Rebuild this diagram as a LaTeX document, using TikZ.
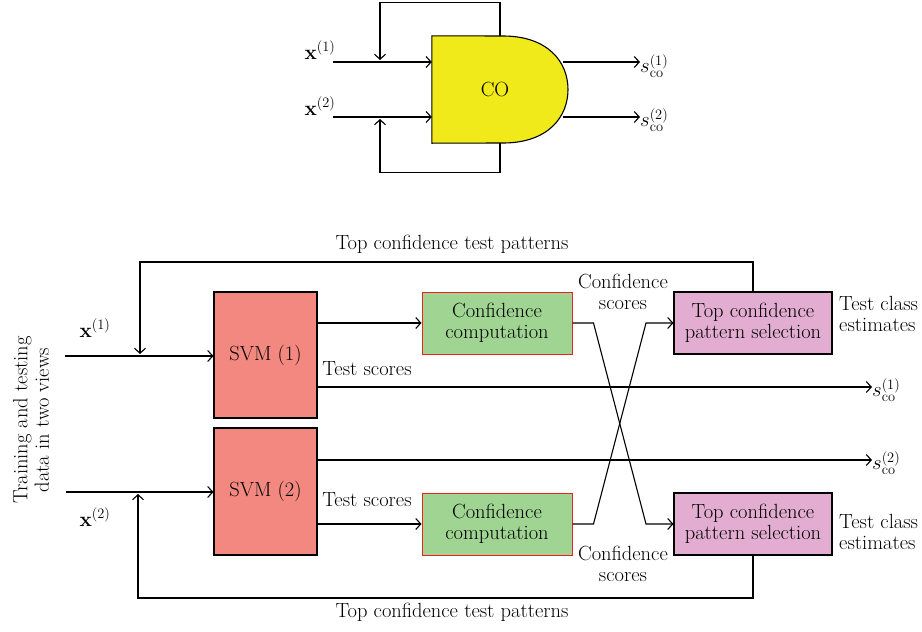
\documentclass[tikz,border=0pt]{standalone}
\usetikzlibrary{arrows.meta}
\definecolor{coyellow}{HTML}{F0EA1A}
\definecolor{svmred}{HTML}{F28880}
\definecolor{ccgreen}{HTML}{A0D492}
\definecolor{pspink}{HTML}{E2ADD0}
\definecolor{ccborder}{HTML}{F02020}
\begin{document}
\begin{tikzpicture}[x=1pt,y=-1pt,
  every node/.style={font=\fontsize{20.5}{21.5}\selectfont, inner sep=0pt},
  arr/.style={line width=1.1pt, -{Straight Barb[length=5pt,width=11pt,line width=1.1pt]}},
  svmbox/.style={draw, line width=1.1pt, fill=svmred, minimum width=103pt, minimum height=126pt},
  ccbox/.style={draw=ccborder, line width=1pt, fill=ccgreen, minimum width=150pt, minimum height=62pt, align=center},
  psbox/.style={draw, line width=1.1pt, fill=pspink, minimum width=158pt, minimum height=62pt, align=center},
  lbl/.style={align=center}
]
\useasboundingbox (0,0) rectangle (922,632);

% ---------- top: CO block ----------
\node[minimum width=136pt, minimum height=107pt] (co) at (500,89.5) {};
\fill[coyellow, draw=black, line width=1.1pt] (co.north west) -- (503,36) .. controls (548,36) and (568,62) .. (568,89.5) .. controls (568,117) and (548,143) .. (503,143) -- (co.south west) -- cycle;
\node at (co.center) [xshift=-5pt] {CO};

\node (x1top) at (320,50) {$\mathbf{x}^{(1)}$};
\node (x2top) at (320,106) {$\mathbf{x}^{(2)}$};
\coordinate (x1in) at (333,62);
\coordinate (x2in) at (333,117);
\draw[arr] (x1in) -- (x1in -| co.west);
\draw[arr] (x2in) -- (x2in -| co.west);
\draw[arr] (co.north) -- ++(0,-33) -| (380,60);
\draw[arr] (co.south) -- ++(0,29) -| (380,119);

\node[anchor=west] (s1top) at (640,66) {$s_{\mathrm{co}}^{(1)}$};
\node[anchor=west] (s2top) at (640,120) {$s_{\mathrm{co}}^{(2)}$};
\draw[arr] (563,62) -- (s1top.west |- 0,62);
\draw[arr] (563,117) -- (s2top.west |- 0,117);

% ---------- bottom: co-training ----------
\node[svmbox] (svm1) at (265.5,355) {SVM (1)};
\node[svmbox, minimum height=127pt] (svm2) at (265.5,491.5) {SVM (2)};
\node[ccbox] (cc1) at (497,323) {Confidence\\computation};
\node[ccbox] (cc2) at (497,524) {Confidence\\computation};
\node[psbox] (ps1) at (753,323) {Top confidence\\pattern selection};
\node[psbox] (ps2) at (753,524) {Top confidence\\pattern selection};

\node[lbl] (tctp1) at (452,244) {Top confidence test patterns};
\node[lbl] (tctp2) at (452,612) {Top confidence test patterns};
\node[lbl] (cs1) at (623,292) {Confidence\\scores};
\node[lbl] (cs2) at (623,564) {Confidence\\scores};
\node[align=left, anchor=west] (tce1) at (839,314) {Test class\\estimates};
\node[align=left, anchor=west] (tce2) at (839,532) {Test class\\estimates};
\node (ts1) at (367,369) {Test scores};
\node (ts2) at (367,500) {Test scores};
\node (x1b) at (95,328) {$\mathbf{x}^{(1)}$};
\node (x2b) at (95,517) {$\mathbf{x}^{(2)}$};
\node[lbl, rotate=90] (train) at (31,420) {Training and testing\\data in two views};

\node[anchor=west] (s1b) at (872,390) {$s_{\mathrm{co}}^{(1)}$};
\node[anchor=west] (s2b) at (872,463) {$s_{\mathrm{co}}^{(2)}$};

\coordinate (x1start) at (65,356);
\coordinate (x2start) at (66,492);
\draw[arr] (x1start) -- (x1start -| svm1.west);
\draw[arr] (x2start) -- (x2start -| svm2.west);
\draw[arr] (ps1.north) |- (140,262) -- (140,354);
\draw[arr] (ps2.south) |- (138,598) -- (138,494);

\draw[arr] (svm1.east |- cc1.west) -- (cc1.west);
\draw[arr] (svm2.east |- cc2.west) -- (cc2.west);
\draw[arr] (svm1.east |- 0,387) -- (s1b.west |- 0,387);
\draw[arr] (svm2.east |- 0,460) -- (s2b.west |- 0,460);

\draw[arr] (cc1.east) -- ++(21,0) -- (646,524) -- (ps2.west);
\draw[arr] (cc2.east) -- ++(21,0) -- (646,323) -- (ps1.west);
\end{tikzpicture}
\end{document}
